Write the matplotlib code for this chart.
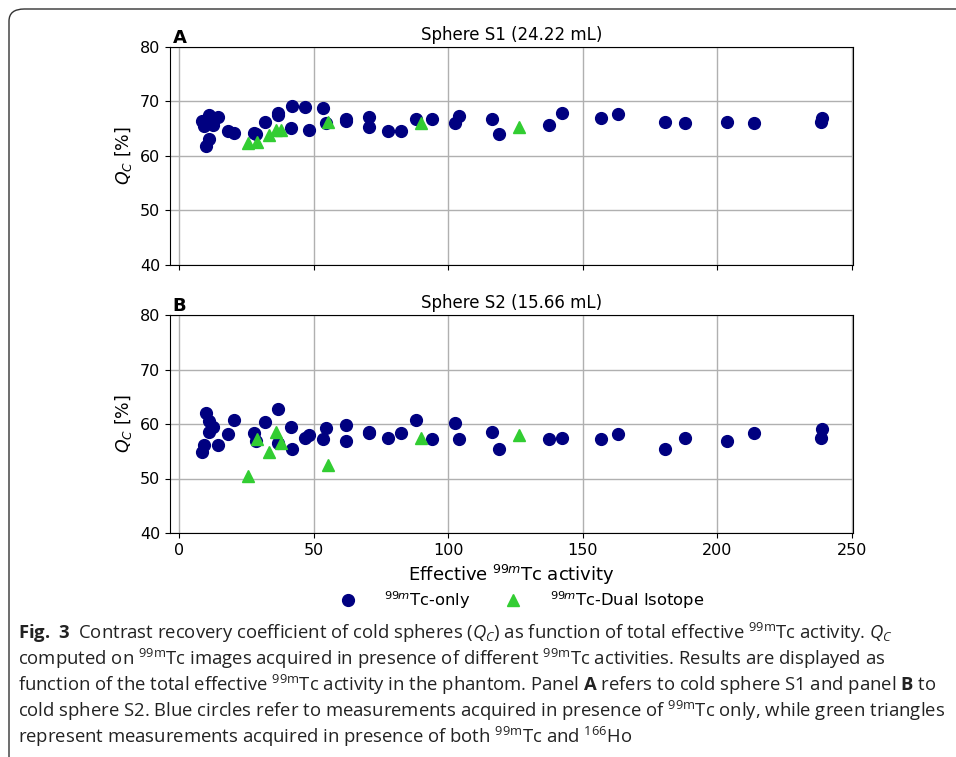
import matplotlib
matplotlib.use("Agg")
import matplotlib.pyplot as plt
from matplotlib.patches import FancyBboxPatch

# caption font: mathtext 'custom' set is used only for the caption lines
capFont = "Open Sans"
plt.rcParams["mathtext.rm"] = capFont
plt.rcParams["mathtext.it"] = capFont + ":italic"
plt.rcParams["mathtext.bf"] = capFont + ":bold"

# Tc-only measurements (same activities for both spheres)
activity = [8.5, 9.3, 9.9, 10.9, 10.9, 12.4, 14.2, 18.0, 20.4, 27.9, 28.3, 31.8,
            36.5, 36.8, 41.5, 41.9, 46.8, 48.1, 53.3, 54.6, 62.0, 62.0, 70.5, 70.5,
            77.4, 82.4, 88.0, 93.8, 102.4, 104.1, 116.2, 118.7, 137.5, 142.1,
            156.8, 163.0, 180.5, 188.0, 203.8, 213.8, 238.5, 239.0]
qcS1 = [66.5, 65.5, 61.8, 67.5, 63.1, 65.7, 67.2, 64.6, 64.2, 64.3, 64.0, 66.3,
        67.8, 67.5, 65.1, 69.2, 69.0, 64.8, 68.8, 66.1, 66.7, 66.5, 67.1, 65.3,
        64.5, 64.5, 66.7, 66.7, 66.1, 67.3, 66.8, 64.0, 65.7, 67.9,
        66.9, 67.7, 66.3, 66.1, 66.2, 66.0, 66.3, 66.9]
qcS2 = [54.9, 56.1, 62.1, 60.6, 58.6, 59.5, 56.1, 58.2, 60.7, 58.3, 56.8, 60.4,
        56.6, 62.8, 59.4, 55.4, 57.4, 58.0, 57.2, 59.2, 59.8, 56.8, 58.6, 58.4,
        57.5, 58.4, 60.7, 57.2, 60.1, 57.2, 58.6, 55.4, 57.2, 57.4,
        57.2, 58.1, 55.5, 57.4, 56.9, 58.3, 57.4, 59.0]

# dual isotope measurements
dualActivity = [25.4, 28.8, 33.5, 35.9, 37.8, 55.2, 89.8, 126.4]
dualS1 = [62.4, 62.6, 63.9, 64.8, 64.8, 66.3, 66.1, 65.4]
dualS2 = [50.5, 57.2, 54.9, 58.6, 56.6, 52.5, 57.4, 58.0]

panels = [("A", "Sphere S1 (24.22 mL)", qcS1, dualS1),
          ("B", "Sphere S2 (15.66 mL)", qcS2, dualS2)]

xticks = [0, 50, 100, 150, 200, 250]
yticks = [40, 50, 60, 70, 80]

captionLines = [
    r"$\mathbf{Fig.\ 3}$  Contrast recovery coefficient of cold spheres ($Q_C$) as function of total effective $^{\mathrm{99m}}$Tc activity. $Q_C$",
    r"computed on $^{\mathrm{99m}}$Tc images acquired in presence of different $^{\mathrm{99m}}$Tc activities. Results are displayed as",
    r"function of the total effective $^{\mathrm{99m}}$Tc activity in the phantom. Panel $\mathbf{A}$ refers to cold sphere S1 and panel $\mathbf{B}$ to",
    r"cold sphere S2. Blue circles refer to measurements acquired in presence of $^{\mathrm{99m}}$Tc only, while green triangles",
    r"represent measurements acquired in presence of both $^{\mathrm{99m}}$Tc and $^{\mathrm{166}}$Ho",
]

W, H = 956, 757
fig = plt.figure(figsize=(W / 100, H / 100), dpi=100)

axTop = fig.add_axes([170 / W, 1 - 265 / H, 683 / W, 218 / H])
axBot = fig.add_axes([170 / W, 1 - 533 / H, 683 / W, 218 / H])

for ax, (letter, title, qc, dual) in zip([axTop, axBot], panels):
    ax.set_axisbelow(True)
    ax.grid(True, color="#b0b0b0", lw=1.0)
    ax.plot(activity, qc, "o", color="navy", ms=8.5, label=r"$^{99m}$Tc-only")
    ax.plot(dualActivity, dual, "^", color="limegreen", ms=9, label=r"$^{99m}$Tc-Dual Isotope")
    ax.set_xlim(-3.5, 250.5)
    ax.set_ylim(40, 80)
    ax.set_xticks(xticks)
    ax.set_yticks(yticks)
    ax.tick_params(labelsize=11.5)
    ax.set_title(title, fontsize=12, pad=5)
    ax.set_ylabel(r"$Q_C$ [%]", fontsize=12.5)
    ax.text(0.004, 1.0, letter, transform=ax.transAxes, fontsize=13,
            fontweight="bold", ha="left", va="bottom")

axTop.tick_params(labelbottom=False)
axBot.set_xlabel(r"Effective $^{99m}$Tc activity", fontsize=13, labelpad=4)

handles, labels = axBot.get_legend_handles_labels()
fig.legend(handles, labels, loc="center", bbox_to_anchor=(518 / W, 1 - 600 / H),
           ncol=2, frameon=False, fontsize=11.8, columnspacing=1.6, handletextpad=1.2)

# caption
for i, line in enumerate(captionLines):
    fig.text(18 / W, 1 - (633 + 26 * i) / H, line, fontsize=13.3, family=capFont,
             math_fontfamily="custom", va="center", ha="left", color="#222222")

# rounded frame around the figure
frame = FancyBboxPatch((9 / W, -20 / H), 990 / W, (H - 9 + 20) / H,
                       boxstyle="round,pad=0,rounding_size=0.016",
                       transform=fig.transFigure, fill=False, ec="#333333", lw=1.0)
fig.patches.append(frame)

fig.savefig("out.png", dpi=100)
